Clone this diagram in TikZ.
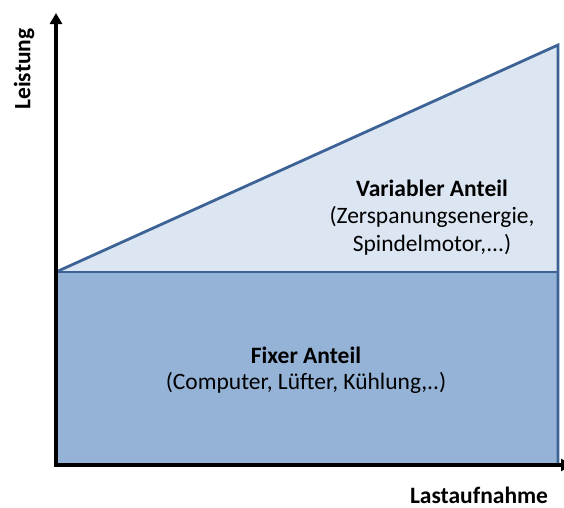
\documentclass[tikz,border=0pt]{standalone}
\usepackage{fontspec}
\setmainfont{Carlito}
\usetikzlibrary{arrows.meta}
\definecolor{fixcol}{HTML}{95B3D7}
\definecolor{varcol}{HTML}{DCE6F2}
\definecolor{edgecol}{HTML}{3D6396}
\begin{document}
\begin{tikzpicture}[x=1pt,y=-1pt,
  area/.style={draw=edgecol,line width=2.8pt,line join=miter},
  axis/.style={draw=black,line width=4pt,-{Triangle[length=11pt,width=12pt]}},
  bold/.style={font=\fontsize{23.5}{28}\selectfont\bfseries,inner sep=0pt},
  note/.style={font=\fontsize{23.5}{28}\selectfont,align=center,inner sep=0pt}]
\useasboundingbox (0,0) rectangle (564,507);
\coordinate (O) at (56,465);
\coordinate (A) at (56,272);
\coordinate (B) at (558,272);
\coordinate (C) at (558,45);
\coordinate (D) at (558,465);
\coordinate (Ytop) at (56,13);
\coordinate (Xend) at (572,465);
\fill[fixcol] (O) rectangle (B);
\fill[varcol] (A) -- (C) -- (B) -- cycle;
\draw[area] (A) -- (C) -- (D);
\draw[area] (A) -- (B);
\draw[axis] (56,467) -- (Ytop);
\draw[axis] (54,465) -- (Xend);
\node[bold,rotate=90] (ylab) at (24,69) {Leistung};
\node[bold,anchor=base,text depth=0pt] (xlab) at (479,503) {Lastaufnahme};
\node[bold] (vt) at (432,188) {Variabler Anteil};
\node[note] (vn) at (432,231) {(Zerspanungsenergie,\\Spindelmotor,...)};
\node[bold] (ft) at (306,355) {Fixer Anteil};
\node[note] (fn) at (306,383) {(Computer, Lüfter, Kühlung,..)};
\end{tikzpicture}
\end{document}
